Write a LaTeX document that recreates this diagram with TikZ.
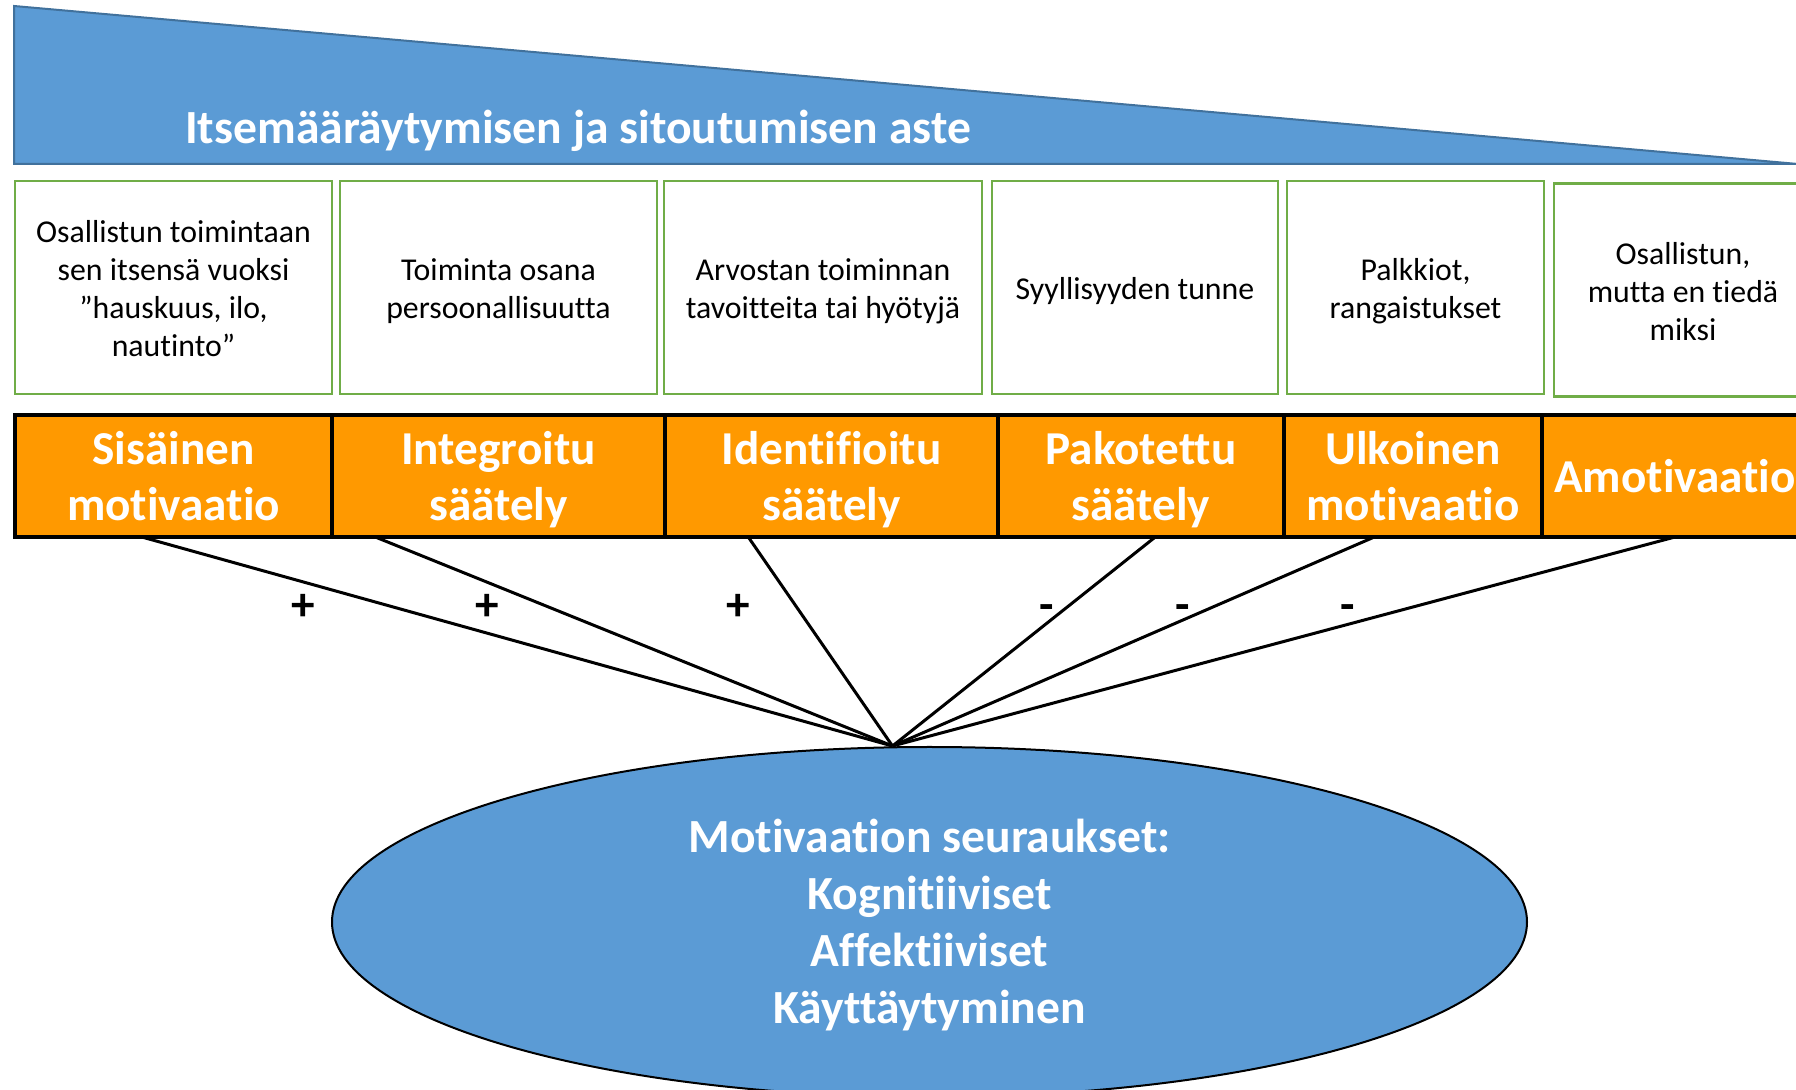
\documentclass[tikz,border=0pt]{standalone}
\usepackage{fontspec}
\setmainfont{Carlito}[Ligatures={NoCommon,NoContextual,NoRare}, Contextuals=NoAlternate]
\usetikzlibrary{positioning,shapes.geometric,calc}

\definecolor{triblue}{HTML}{5B9BD5}
\definecolor{triedge}{HTML}{41719C}
\definecolor{boxgreen}{HTML}{70AD47}
\definecolor{regorange}{HTML}{FF9900}

\begin{document}
\begin{tikzpicture}[
  x=0.5pt, y=-0.5pt,
  desc/.style={draw=boxgreen, line width=1.2pt, outer sep=0pt, fill=white, minimum height=106.5pt, align=center, inner sep=2pt, font=\fontsize{15.9}{19}\selectfont, text depth=5pt, text height=36.4pt},
  reg/.style={draw=black, line width=2pt, outer sep=0pt, fill=regorange, minimum height=61pt, align=center, inner sep=0pt, text=white, font=\fontsize{23.6}{28}\selectfont\bfseries, text depth=6.5pt, text height=51.2pt},
  sgn/.style={inner sep=0pt, anchor=base, font=\fontsize{23.6}{28}\selectfont\bfseries},
  link/.style={line width=1.5pt}]
\useasboundingbox (0,0) rectangle (1796,1090);

% wedge with the title
\draw[fill=triblue, draw=triedge, line width=1pt] (14,6) -- (14,164) -- (1798,164) -- cycle;
\node[text=white, inner sep=0pt, font=\fontsize{23.8}{28.5}\selectfont\bfseries] (title) at (578,132) {\strut Itsemääräytymisen ja sitoutumisen aste};

% descriptions
\node[desc, minimum width=158.5pt, text height=74.4pt] (g1) at (173.5,287.5) {Osallistun toimintaan\\sen itsensä vuoksi\\”hauskuus, ilo,\\nautinto”};
\node[desc, minimum width=158.5pt, right=4pt of g1] (g2) {Toiminta osana\\persoonallisuutta};
\node[desc, minimum width=159pt, right=3.5pt of g2] (g3) {Arvostan toiminnan\\tavoitteita tai hyötyjä};
\node[desc, minimum width=143pt, right=5pt of g3, text height=17.4pt] (g4) {Syyllisyyden tunne};
\node[desc, minimum width=128.5pt, right=4.5pt of g4] (g5) {Palkkiot,\\rangaistukset};
\node[desc, minimum width=129pt, right=5pt of g5, yshift=-1.2pt, text height=55.4pt] (g6) {Osallistun,\\mutta en tiedä\\miksi};

% regulation types
\node[reg, minimum width=158.5pt] (o1) at (173.5,476) {Sisäinen\\motivaatio};
\node[reg, minimum width=166.5pt, right=0pt of o1] (o2) {Integroitu\\säätely};
\node[reg, minimum width=166.5pt, right=0pt of o2] (o3) {Identifioitu\\säätely};
\node[reg, minimum width=143pt, right=0pt of o3] (o4) {Pakotettu\\säätely};
\node[reg, minimum width=129pt, right=0pt of o4] (o5) {Ulkoinen\\motivaatio};
\node[reg, minimum width=133pt, right=0pt of o5, text height=23.2pt] (o6) {Amotivaatio};

% consequences
\node[draw, line width=1pt, fill=triblue, ellipse, minimum width=597.5pt, minimum height=175pt, inner sep=0pt, text=white, align=center, font=\fontsize{23.8}{28.5}\selectfont\bfseries, text depth=7pt, text height=108.5pt] (cons) at (929.5,922) {Motivaation seuraukset:\\Kognitiiviset\\Affektiiviset\\Käyttäytyminen};
\coordinate (hub) at ($(cons.north)+(-37,0)$);

\draw[link] ($(o1.south west)!0.40!(o1.south east)$) -- (hub);
\draw[link] ($(o2.south west)!0.13!(o2.south east)$) -- (hub);
\draw[link] ($(o3.south west)!0.25!(o3.south east)$) -- (hub);
\draw[link] ($(o4.south west)!0.55!(o4.south east)$) -- (hub);
\draw[link] ($(o5.south west)!0.35!(o5.south east)$) -- (hub);
\draw[link] (o6.south) -- (hub);

\node[sgn] (p1) at (303,621) {+};
\node[sgn] (p2) at (487,621) {+};
\node[sgn] (p3) at (738,621) {+};
\node[sgn] (m1) at (1047,621) {-};
\node[sgn] (m2) at (1183,621) {-};
\node[sgn] (m3) at (1348,621) {-};
\end{tikzpicture}
\end{document}
